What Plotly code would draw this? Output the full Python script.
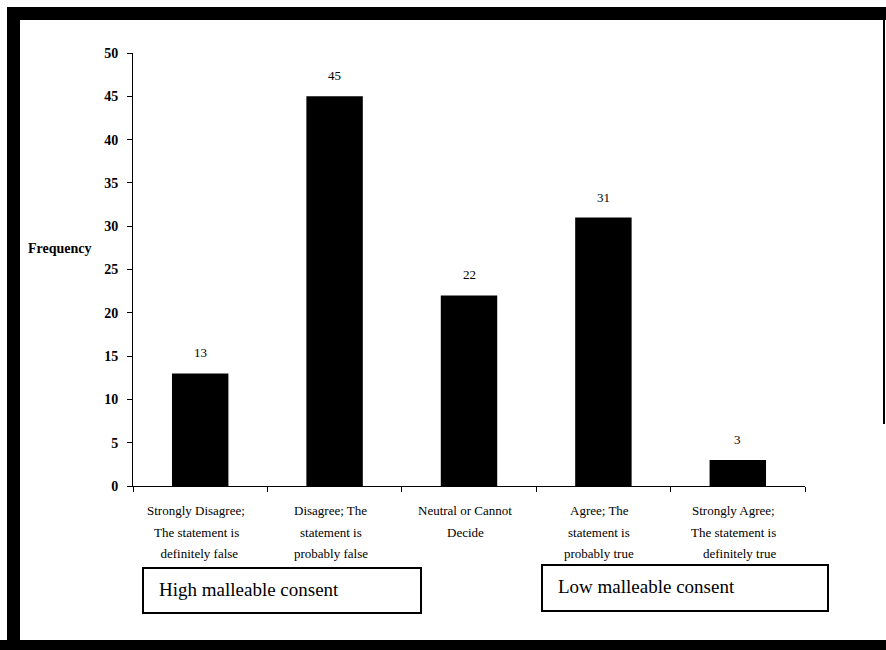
import plotly.graph_objects as go

# Response categories (each label broken over three lines) and counts
categories = [
    "Strongly Disagree",
    "Disagree",
    "Neutral",
    "Agree",
    "Strongly Agree",
]
label_lines = [
    ["Strongly Disagree;", "The statement is", "\u00a0\u00a0definitely false"],
    ["Disagree; The", "statement is", "probably false"],
    ["Neutral or Cannot", "Decide", ""],
    ["Agree; The", "statement is", "probably true"],
    ["Strongly Agree;", "The statement is", "\u00a0\u00a0\u00a0\u00a0definitely true"],
]
frequency = [13, 45, 22, 31, 3]
y_ticks = [0, 5, 10, 15, 20, 25, 30, 35, 40, 45, 50]
group_labels = ["High malleable consent", "Low malleable consent"]

W, H = 886, 650
L, R, T, B = 133, 81, 53, 164
PW, PH = W - L - R, H - T - B
SERIF = "Liberation Serif, Times New Roman, serif"


def px_x(px):
    return (px - L) / PW


def px_y(py):
    return (H - B - py) / PH


fig = go.Figure()
fig.add_trace(go.Bar(
    x=categories,
    y=frequency,
    width=0.42,
    marker=dict(color="black", line=dict(width=0)),
    hoverinfo="skip",
))

annotations = []
# Value labels above the bars
for cat, val in zip(categories, frequency):
    annotations.append(dict(
        x=cat, y=val, xref="x", yref="y", text=str(val), showarrow=False,
        yanchor="bottom", yshift=11, font=dict(family=SERIF, size=13, color="black"),
    ))

# Category labels under the axis, one annotation per line
line_y = [510, 532, 553]
for cat, lines in zip(categories, label_lines):
    for ly, txt in zip(line_y, lines):
        if not txt:
            continue
        annotations.append(dict(
            x=cat, y=px_y(ly), xref="x", yref="paper", text=txt, showarrow=False,
            xanchor="center", yanchor="middle", xshift=-4,
            font=dict(family=SERIF, size=13, color="black"),
        ))

# Axis title, set horizontally to the left of the axis
annotations.append(dict(
    x=px_x(94), y=px_y(248), xref="paper", yref="paper", text="<b>Frequency</b>",
    showarrow=False, xanchor="right", yanchor="middle",
    font=dict(family=SERIF, size=14, color="black"),
))

# Group labels inside their boxes
annotations.append(dict(
    x=px_x(157), y=px_y(589), xref="paper", yref="paper", text=group_labels[0],
    showarrow=False, xanchor="left", yanchor="middle",
    font=dict(family=SERIF, size=19, color="black"),
))
annotations.append(dict(
    x=px_x(556), y=px_y(586), xref="paper", yref="paper", text=group_labels[1],
    showarrow=False, xanchor="left", yanchor="middle",
    font=dict(family=SERIF, size=19, color="black"),
))

shapes = []
# Group boxes
for x0, x1, y0, y1 in [(143, 421, 568, 613), (542, 828, 565, 611)]:
    shapes.append(dict(
        type="rect", xref="paper", yref="paper",
        x0=px_x(x0), x1=px_x(x1), y0=px_y(y1), y1=px_y(y0),
        line=dict(color="black", width=2), fillcolor="rgba(0,0,0,0)",
    ))

# Heavy outer frame
for x0, x1, y0, y1 in [(7, 20, 7, 650), (7, 886, 7, 20), (0, 886, 640, 650)]:
    shapes.append(dict(
        type="rect", xref="paper", yref="paper",
        x0=px_x(x0), x1=px_x(x1), y0=px_y(y1), y1=px_y(y0),
        line=dict(width=0), fillcolor="black",
    ))
shapes.append(dict(
    type="line", xref="paper", yref="paper",
    x0=px_x(884), x1=px_x(884), y0=px_y(20), y1=px_y(424),
    line=dict(color="black", width=2),
))

fig.update_layout(
    width=W, height=H,
    margin=dict(l=L, r=R, t=T, b=B, pad=0),
    paper_bgcolor="white", plot_bgcolor="white",
    showlegend=False,
    xaxis=dict(
        type="category", tickson="boundaries", ticks="outside", ticklen=5,
        tickcolor="black", showline=True, linecolor="black", linewidth=1,
        showgrid=False, zeroline=False, showticklabels=False,
        range=[-0.5, 4.5],
    ),
    yaxis=dict(
        range=[0, 50], tickvals=y_ticks, ticks="outside", ticklen=5,
        tickcolor="black", showline=True, linecolor="black", linewidth=1,
        showgrid=False, zeroline=False, ticklabelstandoff=6,
        tickfont=dict(family=SERIF, size=14, color="black", weight="bold"),
    ),
    annotations=annotations,
    shapes=shapes,
)

fig.write_html("out.html")
